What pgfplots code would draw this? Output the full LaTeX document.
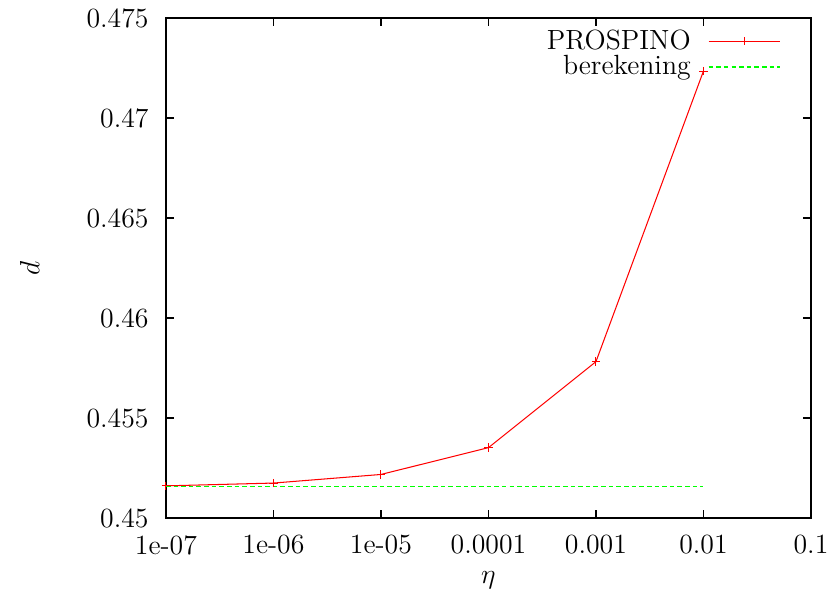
\documentclass[border=0pt,12pt]{standalone}
\usepackage{pgfplots}
\pgfplotsset{compat=1.18}

\definecolor{gpred}{rgb}{1,0,0}
\definecolor{gpgreen}{rgb}{0,1,0}

\begin{document}
\begin{tikzpicture}
\useasboundingbox (-71.7pt,-35pt) rectangle (288.3pt,223.9pt);
\begin{axis}[
    at={(0,0)}, anchor=south west,
    scale only axis,
    width=278.8pt, height=216.1pt,
    xmode=log, log basis x=10,
    xmin=1e-7, xmax=0.1,
    ymin=0.45, ymax=0.475,
    xtick={1e-7,1e-6,1e-5,1e-4,1e-3,1e-2,1e-1},
    xticklabels={1e-07,1e-06,1e-05,0.0001,0.001,0.01,0.1},
    ytick={0.45,0.455,0.46,0.465,0.47,0.475},
    yticklabels={0.45,0.455,0.46,0.465,0.47,0.475},
    minor y tick num=0,
    tick align=inside,
    major tick length=3.4pt,
    minor tick length=1.7pt,
    every tick/.style={black, line width=0.5pt},
    axis line style={line width=0.6pt},
    xticklabel style={anchor=north, inner sep=0pt, yshift=-7.3pt},
    yticklabel style={anchor=east, inner sep=0pt, xshift=-7.3pt},
    xlabel={$\eta$},
    ylabel={$d$},
    xlabel style={at={(axis description cs:0.5,0)}, anchor=center, yshift=-26.8pt},
    ylabel style={at={(axis description cs:0,0.5)}, anchor=center, yshift=58.8pt},
    legend plot pos=right,
    legend cell align=right,
    legend style={at={(axis description cs:0.954,0.985)}, anchor=north east,
        draw=none, fill=none, inner sep=0pt, row sep=-2.1pt,
        nodes={inner sep=1.5pt}},
    legend image code/.code={
        \path (0pt,0pt);
        \draw[mark repeat=2,mark phase=2,#1] plot coordinates {(6pt,0pt)(21.5pt,0pt)(37pt,0pt)};
    },
]
\addplot[gpred, line width=0.45pt, mark=+, mark size=1.8pt, mark options={solid},
    legend image post style={draw=gpred}] coordinates {
    (1e-7,0.45161)(1e-6,0.45175)(1e-5,0.45218)(1e-4,0.45352)(1e-3,0.45782)(1e-2,0.47235)
};
\addlegendentry{PROSPINO}
\addplot[gpgreen, line width=0.45pt, dash pattern=on 2pt off 1.3pt,
    legend image post style={draw=gpgreen}] coordinates {
    (1e-7,0.45157)(1e-6,0.45157)(1e-5,0.45157)(1e-4,0.45157)(1e-3,0.45157)(1e-2,0.45157)
};
\addlegendentry{berekening}
\end{axis}
\end{tikzpicture}
\end{document}
